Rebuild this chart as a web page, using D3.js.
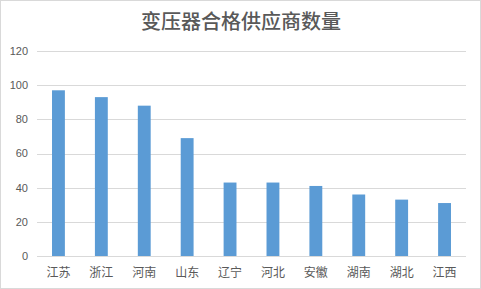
<!DOCTYPE html>
<html>
<head>
<meta charset="utf-8">
<script src="https://cdn.jsdelivr.net/npm/d3@7"></script>
<style>
  body { margin: 0; background: #fff; }
  svg { display: block; }
</style>
</head>
<body>
<div id="canva"></div>
<script>
const provinces = ['江苏', '浙江', '河南', '山东', '辽宁', '河北', '安徽', '湖南', '湖北', '江西'];
const supplierCounts = [97, 93, 88, 69, 43, 43, 41, 36, 33, 31];
const yTicks = [0, 20, 40, 60, 80, 100, 120];
const chartTitle = '变压器合格供应商数量';

const width = 481, height = 289;
const margin = { top: 51, right: 15, bottom: 33, left: 37 };

const svg = d3.select('#canva').append('svg')
    .attr('width', width)
    .attr('height', height)

svg.append('rect')
    .attr('x', 0.5).attr('y', 0.5)
    .attr('width', width - 1).attr('height', height - 1)
    .attr('fill', '#fff')
    .attr('stroke', '#d9d9d9')

const x = d3.scaleBand()
    .domain(provinces)
    .range([margin.left, width - margin.right])
    .paddingInner(0.7)
    .paddingOuter(0.35);

const y = d3.scaleLinear()
    .domain([0, 120])
    .range([height - margin.bottom, margin.top]);

// gridlines
svg.append('g')
    .selectAll('line')
    .data(yTicks)
    .enter()
    .append('line')
    .attr('x1', margin.left)
    .attr('x2', width - margin.right)
    .attr('y1', d => Math.round(y(d)) + 0.5)
    .attr('y2', d => Math.round(y(d)) + 0.5)
    .attr('stroke', '#d9d9d9')
    .attr('stroke-width', 1);

// y labels
svg.append('g')
    .selectAll('text')
    .data(yTicks)
    .enter()
    .append('text')
    .attr('x', 28)
    .attr('y', d => y(d))
    .attr('dy', '0.35em')
    .attr('text-anchor', 'end')
    .attr('font-family', 'Liberation Sans, Arial, sans-serif')
    .attr('font-size', 11)
    .attr('fill', '#595959')
    .text(d => d);

// bars
svg.append('g')
    .selectAll('rect')
    .data(provinces)
    .enter()
    .append('rect')
    .attr('x', d => x(d))
    .attr('width', x.bandwidth())
    .attr('y', (d, i) => y(supplierCounts[i]))
    .attr('height', (d, i) => y(0) - y(supplierCounts[i]))
    .attr('fill', '#5b9bd5');

// baseline over bars
svg.append('line')
    .attr('x1', margin.left)
    .attr('x2', width - margin.right)
    .attr('y1', Math.round(y(0)) + 0.5)
    .attr('y2', Math.round(y(0)) + 0.5)
    .attr('stroke', '#d9d9d9');

// category labels
svg.append('g')
    .selectAll('text')
    .data(provinces)
    .enter()
    .append('text')
    .attr('x', d => x(d) + x.bandwidth() / 2)
    .attr('y', 273)
    .attr('dy', '0.35em')
    .attr('text-anchor', 'middle')
    .attr('font-family', 'Noto Sans CJK SC, sans-serif')
    .attr('font-size', 12)
    .attr('fill', '#595959')
    .text(d => d);

svg.append('text')
    .attr('x', 241)
    .attr('y', 22)
    .attr('dy', '0.35em')
    .attr('text-anchor', 'middle')
    .attr('font-family', 'Noto Sans CJK SC, sans-serif')
    .attr('font-size', 20)
    .attr('font-weight', 500)
    .attr('fill', '#595959')
    .text(chartTitle);
</script>
</body>
</html>
